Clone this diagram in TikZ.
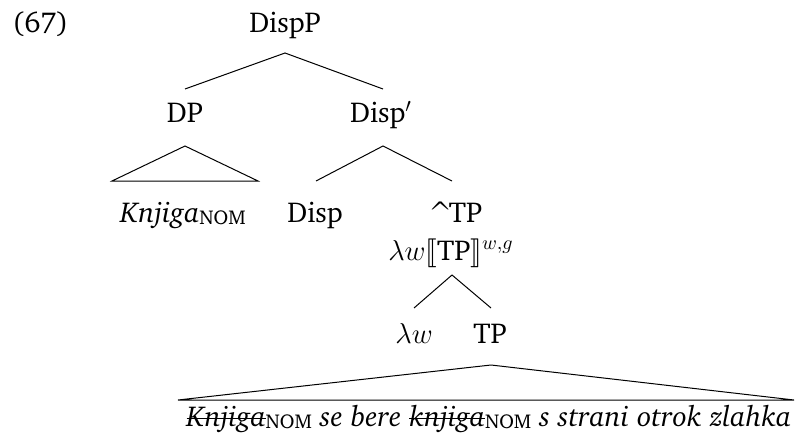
\documentclass[tikz,border=0pt]{standalone}
\usepackage[T1]{fontenc}
\usepackage{charter}
\usepackage{stmaryrd}
\usetikzlibrary{calc}
\newcommand\nomsc{\raisebox{-1pt}{\upshape\fontsize{10}{10}\selectfont NOM}}
\newsavebox\strkbox
\newcommand\strk[1]{\sbox\strkbox{#1}\rlap{\rule[0.24em]{\wd\strkbox}{0.6pt}}\usebox\strkbox}
\begin{document}
\begin{tikzpicture}[x=0.5pt,y=-0.5pt,
  every node/.style={inner sep=0pt, anchor=base, font=\fontsize{14.4}{17}\selectfont},
  edge/.style={line width=0.5pt}]
\useasboundingbox (0,0) rectangle (795,443);
\node[anchor=base west] (ex) at (12,33) {(67)};
\node (dispP) at (285,33) {DispP};
\node (dp) at (185,123) {DP};
\node (dispbar) at (381,123) {Disp$'$};
\node (knjiga) at (183,222) {\textit{Knjiga}\nomsc};
\node (disp) at (315,222) {Disp};
\node (tp) at (454,222) {\textasciicircum\kern-0.2em TP};
\node (tpden) at (451,260) {$\lambda w\llbracket$TP$\rrbracket^{w,g}$};
\node (lw) at (414,343) {$\lambda w$};
\node (tp2) at (490,343) {TP};
\node (bottom) at (489,426) {\itshape\strk{Knjiga}\nomsc{} se bere \strk{knjiga}\nomsc{} s strani otrok zlahka};
% edges
\draw[edge] ($(dp.base)+(0,-34)$) -- ($(dispP.base)+(0,20)$) -- ($(dispbar.base)+(2,-34)$);
\draw[edge] ($(dp.base)+(0,23)$) -- ($(knjiga.base)+(-71,-41)$) -- ($(knjiga.base)+(75,-41)$) -- cycle;
\draw[edge] ($(disp.base)+(1,-41)$) -- ($(dispbar.base)+(2,23)$) -- ($(tp.base)+(-2,-41)$);
\draw[edge] ($(lw.base)+(0,-35)$) -- ($(tpden.base)+(1,15)$) -- ($(tp2.base)+(1,-35)$);
\draw[edge] ($(tp2.base)+(1,22)$) -- ($(bottom.base)+(-311,-26)$) -- ($(bottom.base)+(305,-26)$) -- cycle;
\end{tikzpicture}
\end{document}
